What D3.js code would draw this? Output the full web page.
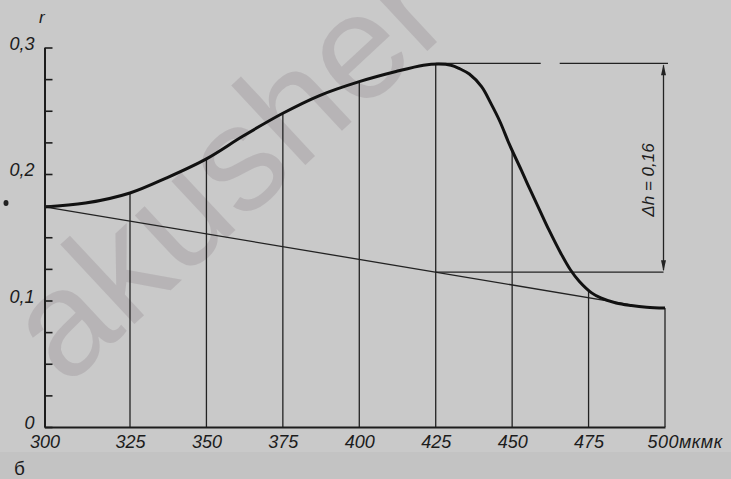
<!DOCTYPE html>
<meta charset="utf-8">
<style>
body { margin: 0; background: #c5c5c5; }
svg { display: block; }
.lbl { font-family: "Liberation Sans", Arial, sans-serif; font-style: italic; fill: #1c1c1c; }
.axis path, .axis line { stroke: #1c1c1c; }
.axis text { font-family: "Liberation Sans", Arial, sans-serif; font-style: italic; font-size: 18px; fill: #1c1c1c; }
.thin { stroke: #222; stroke-width: 1.3; fill: none; }
.curve { stroke: #111; stroke-width: 3; fill: none; stroke-linejoin: round; }
</style>
<svg width="731" height="479"></svg>
<script src="https://cdn.jsdelivr.net/npm/d3@7"></script>
<script>

// absorption curve (wavelength, mμ -> density)
var waveLen = [300, 312, 325, 337, 350, 362, 375, 387, 400, 412, 421, 426, 430, 433, 436, 440, 443, 446, 449, 453, 456, 459, 462, 466, 469, 472, 476, 479, 484, 489, 494, 500];
var density = [0.174, 0.177, 0.185, 0.197, 0.212, 0.230, 0.248, 0.262, 0.273, 0.281, 0.286, 0.287, 0.286, 0.283, 0.279, 0.269, 0.256, 0.2415, 0.224, 0.203, 0.187, 0.1715, 0.156, 0.137, 0.1245, 0.115, 0.106, 0.102, 0.098, 0.096, 0.0947, 0.094];

var gridLines = [325, 350, 375, 400, 450, 475];
var xTicks = [300, 325, 350, 375, 400, 425, 450, 475, 500];
var yTicks = d3.range(0, 0.3001, 0.025);
var yLabels = [0, 0.1, 0.2, 0.3];

var baseLine = [[300, 0.174], [488, 0.097]];
var peakX = 425, peakY = 0.2875;
var deltaLabel = "\u0394h = 0,16";

var svg = d3.select("svg"),
    width = +svg.attr("width"),
    height = +svg.attr("height");

// the drawing's first interval (300-325) is a little wider than the rest
var x = d3.scaleLinear().domain([300, 325, 500]).range([44.5, 130, 665]);
var y = d3.scaleLinear().domain([0, 0.3]).range([427, 47.5]);

// paper tone
svg.append("rect").attr("width", width).attr("height", height).attr("fill", "#c3c3c3");
svg.append("rect").attr("width", width).attr("height", 452).attr("fill", "#c9c9c9");

// watermark
svg.append("text")
    .attr("transform", "translate(66,388) rotate(-43)")
    .attr("font-family", "Liberation Sans, Arial, sans-serif")
    .attr("font-size", 150)
    .attr("fill", "#b3afb1")
    .attr("fill-opacity", 0.8)
    .text("akusher");

var line = d3.line()
    .x(function(d) { return x(d[0]); })
    .y(function(d) { return y(d[1]); });

var pts = waveLen.map(function(l, i) { return [l, density[i]]; });
var curveAt = function(l) {
  var i = d3.bisectLeft(waveLen, l);
  if (waveLen[i] === l) return density[i];
  var t = (l - waveLen[i - 1]) / (waveLen[i] - waveLen[i - 1]);
  return density[i - 1] + t * (density[i] - density[i - 1]);
};
// height of the straight base line (straight on paper) above a wavelength
var baseAt = function(l) {
  var x0 = x(baseLine[0][0]), x1 = x(baseLine[1][0]);
  var t = (x(l) - x0) / (x1 - x0);
  return baseLine[0][1] + t * (baseLine[1][1] - baseLine[0][1]);
};

// verticals up to the curve
svg.append("g").selectAll("line")
    .data(gridLines)
  .enter().append("line")
    .attr("class", "thin")
    .attr("x1", function(d) { return x(d); })
    .attr("x2", function(d) { return x(d); })
    .attr("y1", y(0))
    .attr("y2", function(d) { return y(curveAt(d)); });

svg.append("line").attr("class", "thin")
    .attr("x1", x(peakX)).attr("x2", x(peakX))
    .attr("y1", y(0)).attr("y2", y(peakY));

svg.append("line").attr("class", "thin")
    .attr("x1", x(500)).attr("x2", x(500))
    .attr("y1", y(0)).attr("y2", y(density[density.length - 1]))
    .attr("stroke-width", 1.6);

// base line
svg.append("path").attr("class", "thin").attr("d", line(baseLine));

// delta h construction
var hx = x(500) - 1.5;
svg.append("line").attr("class", "thin")
    .attr("x1", x(peakX)).attr("x2", x(500) + 3)
    .attr("y1", y(peakY)).attr("y2", y(peakY))
    .attr("stroke-dasharray", "105,19,300");
svg.append("line").attr("class", "thin")
    .attr("x1", x(peakX)).attr("x2", hx)
    .attr("y1", y(baseAt(peakX))).attr("y2", y(baseAt(peakX)));
svg.append("line").attr("class", "thin")
    .attr("x1", hx).attr("x2", hx)
    .attr("y1", y(peakY) + 2).attr("y2", y(baseAt(peakX)) - 2);
svg.append("path")
    .attr("fill", "#222")
    .attr("d", "M" + hx + "," + (y(peakY) + 1) + "l-2.5,11h5z" +
               "M" + hx + "," + (y(baseAt(peakX)) - 1) + "l-2.5,-11h5z");

svg.append("text")
    .attr("class", "lbl")
    .attr("font-size", 17)
    .attr("text-anchor", "middle")
    .attr("transform", "translate(654,180) rotate(-90)")
    .text(deltaLabel);

// the curve
svg.append("path").attr("class", "curve")
    .attr("d", line.curve(d3.curveCatmullRom.alpha(0.5))(pts));

// axes
var fmt = function(d) { return String(+d.toFixed(1)).replace(".", ","); };

var yAxis = svg.append("g")
    .attr("class", "axis")
    .attr("transform", "translate(" + x(300) + ",0)")
    .call(d3.axisLeft(y)
      .tickValues(yTicks)
      .tickSizeInner(-8)
      .tickSizeOuter(0)
      .tickPadding(10)
      .tickFormat(function(d) {
        return yLabels.some(function(v) { return Math.abs(v - d) < 1e-6; }) ? fmt(d) : "";
      }));
yAxis.select(".domain").attr("stroke-width", 2);
yAxis.selectAll(".tick line").attr("stroke-width", 1.6);
yAxis.selectAll(".tick text").attr("dy", "0.1em");

var xAxis = svg.append("g")
    .attr("class", "axis")
    .attr("transform", "translate(0," + y(0) + ")")
    .call(d3.axisBottom(x)
      .tickValues(xTicks)
      .tickSize(0)
      .tickPadding(8)
      .tickFormat(function(d) { return d === 500 ? "500\u043c\u043a\u043c\u043a" : d; }));
xAxis.select(".domain").attr("stroke-width", 2);
xAxis.selectAll(".tick text")
    .filter(function(d) { return d === 500; })
    .attr("text-anchor", "start")
    .attr("x", -18)
    .attr("letter-spacing", "0.5px");

// axis name and figure letter
svg.append("text").attr("class", "lbl").attr("font-size", 17)
    .attr("x", 39).attr("y", 23).text("r");
svg.append("text").attr("class", "lbl").attr("font-size", 19).style("font-style", "normal")
    .attr("x", 14).attr("y", 475).text("\u0431");

// ink spot
svg.append("ellipse").attr("cx", 6).attr("cy", 203).attr("rx", 2.5).attr("ry", 3).attr("fill", "#222");

</script>
